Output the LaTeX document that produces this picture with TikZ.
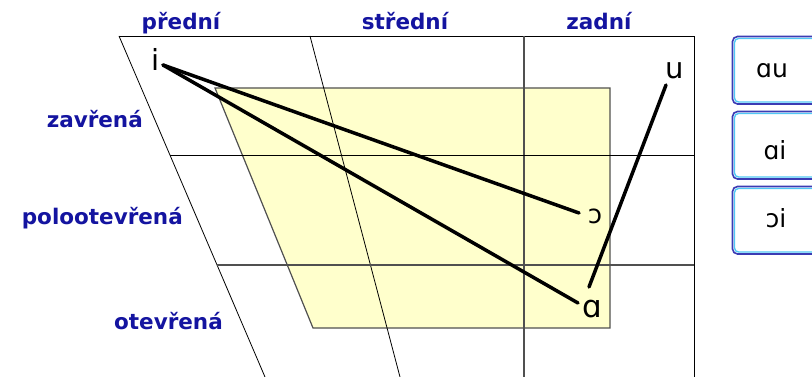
\documentclass[tikz,border=0pt]{standalone}
\usepackage{fontspec}
\setmainfont{DejaVu Sans}
\definecolor{lblue}{RGB}{20,20,160}
\definecolor{yel}{RGB}{255,255,204}
\definecolor{edge}{RGB}{80,80,80}
\definecolor{bout}{RGB}{60,60,180}
\definecolor{bin}{RGB}{80,200,245}
\tikzset{
  grid/.style={black,line width=0.8pt},
  gridd/.style={edge,line width=1.2pt},
  lab/.style={text=lblue,font=\bfseries\fontsize{21.5}{26}\selectfont,inner sep=0pt},
  vow/.style={text=black,font=\fontsize{29}{34}\selectfont,inner sep=0pt,anchor=base},
  glide/.style={black,line width=3.5pt,line cap=round},
  btnout/.style={draw=bout,line width=1.6pt,rounded corners=5pt},
  btnin/.style={draw=bin,line width=1.4pt,rounded corners=4pt},
  btxt/.style={text=black,font=\fontsize{25}{30}\selectfont,inner sep=0pt,anchor=base}
}
\begin{document}
\begin{tikzpicture}[x=1pt,y=-1pt]
\useasboundingbox (0,0) rectangle (812,377);
\clip (0,0) rectangle (812,377);
\fill[white] (0,0) rectangle (812,377);
% yellow region
\filldraw[fill=yel,draw=edge,line width=1.2pt] (215,88) -- (610,88) -- (610,328) -- (313,328) -- cycle;
% grid
\draw[grid] (119,36) -- (694,36) -- (694,377);
\draw[grid] (119,36) -- (265,377);
\draw[grid] (310,36) -- (400,377);
\draw[gridd] (524,36) -- (524,377);
\draw[grid] (170,155) -- (694,155);
\draw[gridd] (217,265) -- (694,265);
% labels
\node[lab,anchor=base] (pr) at (181,30) {přední};
\node[lab,anchor=base] (st) at (405,30) {střední};
\node[lab,anchor=base] (za) at (599,30) {zadní};
\node[lab,anchor=base east] (zv) at (143,128) {zavřená};
\node[lab,anchor=base east] (po) at (183,225) {polootevřená};
\node[lab,anchor=base east] (ot) at (223,329) {otevřená};
% vowels
\node[vow] (i) at (156,71) {i};
\node[vow] (u) at (675,79) {u};
\node[vow,font=\fontsize{26}{30}\selectfont] (o) at (595,223) {ɔ};
\node[vow,font=\fontsize{31}{36}\selectfont] (a) at (592,317) {ɑ};
\coordinate (iS) at (163,65);
\coordinate (oE) at (579,213);
\coordinate (aE) at (578,303);
\coordinate (uS) at (666,85);
\coordinate (uE) at (589,287);
\draw[glide] (iS) -- (oE);
\draw[glide] (iS) -- (aE);
\draw[glide] (uS) -- (uE);
% buttons
\draw[btnout] (732.5,36.5) rectangle (840,104);
\draw[btnin] (734.5,38.5) rectangle (838,102);
\draw[btnout] (732.5,111.5) rectangle (840,179);
\draw[btnin] (734.5,113.5) rectangle (838,177);
\draw[btnout] (732.5,186.5) rectangle (840,254);
\draw[btnin] (734.5,188.5) rectangle (838,252);
\node[btxt] (b1) at (772,78) {ɑu};
\node[btxt] (b2) at (775,160) {ɑi};
\node[btxt] (b3) at (776,228) {ɔi};
\end{tikzpicture}
\end{document}
